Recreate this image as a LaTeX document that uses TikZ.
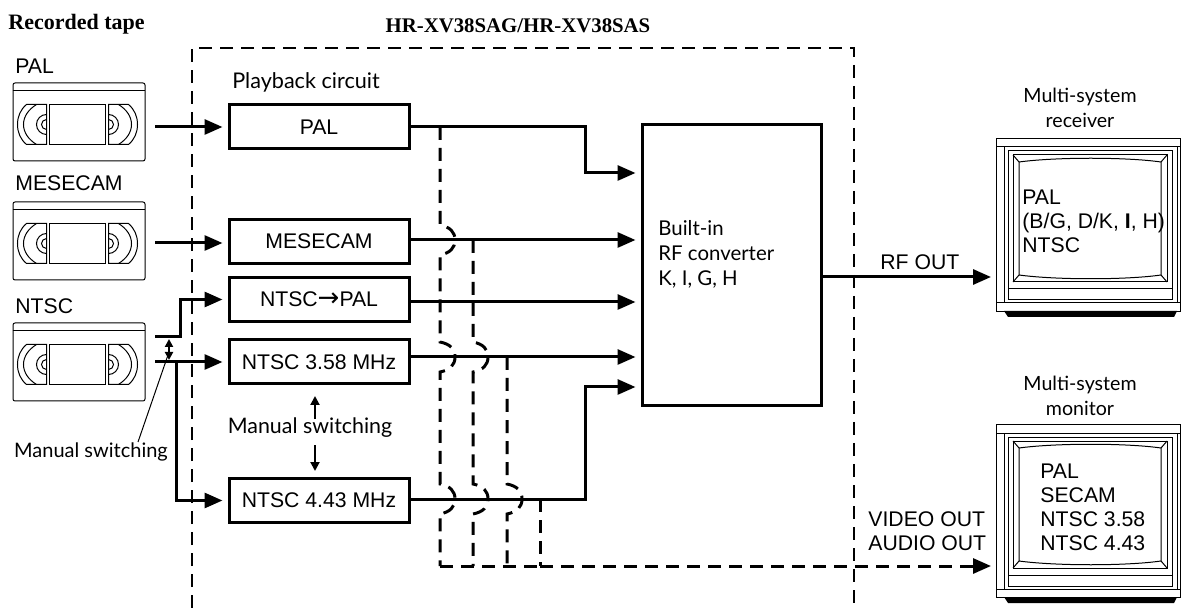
\documentclass[tikz,border=0pt]{standalone}
\usepackage{fontspec}
\setmainfont{Liberation Sans}
\newfontfamily\notefont{Lato}
\newfontfamily\headfont{Liberation Serif}
\newfontfamily\arrowfont{DejaVu Sans}
\usetikzlibrary{arrows.meta, calc}
\newcommand{\hop}[2]{-- (#1,#2-15) .. controls (#1+10,#2-13) and (#1+15,#2-8) .. (#1+15,#2) .. controls (#1+15,#2+8) and (#1+10,#2+13) .. (#1,#2+15)}

\tikzset{
    thinline/.style={line width=0.5pt, black},
    reel/.pic={
        \draw[thinline] (34,22) -- (14,22) .. controls (8,27) and (5,34) .. (5,42) .. controls (5,50) and (8,57) .. (14,62) -- (34,62) -- cycle;
        \draw[thinline] (24,22) .. controls (16,27) and (11,34) .. (11,42) .. controls (11,50) and (16,57) .. (24,62);
        \draw[thinline] (34,32) arc[start angle=-90, end angle=-270, radius=10];
        \draw[thinline] (34,37) arc[start angle=-90, end angle=-270, radius=5];
    },
    cassette/.pic={
        \draw[thinline] (0,8) -- (132,8);
        \draw[thinline] (37,22) rectangle (93,62);
        \pic at (0,0) {reel};
        \pic[transform shape, xscale=-1] at (130,0) {reel};
    },
    screenset/.pic={
        \draw[thinline] (0,9) -- (185,9);
        \draw[thinline] (0,165) -- (185,165);
        \draw[thinline] (8,9) -- (8,165);
        \draw[thinline] (181,9) -- (181,165);
        \draw[thinline] (12,13) rectangle (176,162);
        \draw[thinline] (12,151) -- (176,151);
        \draw[thinline] (17,17) rectangle (171,144);
        \draw[thinline] (23,24) .. controls (60,19) and (130,19) .. (165,24) -- (165,137) .. controls (130,142) and (60,142) .. (23,137) -- cycle;
        \draw[thinline] (17,17) -- (23,24);
        \draw[thinline] (171,17) -- (165,24);
        \draw[thinline] (17,144) -- (23,137);
        \draw[thinline] (171,144) -- (165,137);
        \fill[black] (8,173) -- (181,173) -- (178,179) -- (12,179) -- cycle;
    }
}

\begin{document}
\begin{tikzpicture}[
    x=0.5pt, y=-0.5pt,
    font=\fontsize{10.6}{12}\selectfont,
    tape/.style={rectangle, thinline, draw, rounded corners=1pt, minimum width=66pt, minimum height=39pt, inner sep=0pt},
    set/.style={rectangle, thinline, draw, minimum width=92pt, minimum height=86.5pt, inner sep=0pt},
    hwbox/.style={rectangle, draw, line width=1.5pt, minimum width=90pt, minimum height=22pt, inner sep=0pt},
    conv/.style={rectangle, draw, line width=1.5pt, minimum width=89.5pt, minimum height=140.5pt, inner sep=0pt},
    plain/.style={inner sep=0pt, anchor=west, align=left},
    note/.style={inner sep=0pt, font=\notefont\fontsize{9.8}{12.2}\selectfont, align=center},
    head/.style={inner sep=0pt, font=\headfont\bfseries\fontsize{10.4}{12}\selectfont},
    line/.style={line width=1.5pt, -{Triangle[length=9pt, width=7.5pt]}, shorten >=2.5pt},
    switcharrow/.style={line width=1pt, -{Triangle[length=4.5pt, width=4.5pt]}},
    bus/.style={line width=1.5pt, dash pattern=on 6.5pt off 4pt},
    frame/.style={line width=1.1pt, dash pattern=on 6.5pt off 4pt}
]
    \useasboundingbox (0,0) rectangle (1181,608);

    \node [head, anchor=west, font=\headfont\bfseries\fontsize{11}{12}\selectfont] (rectape) at (8,24) {Recorded tape};
    \node [head] (model) at (518,26) {HR-XV38SAG/HR-XV38SAS};
    \draw [frame] (192,608) |- (854,48) -- (854,608);

    % tapes
    \node [plain] (lblpal) at (15,66) {PAL};
    \node [plain] (lblmese) at (15,183) {MESECAM};
    \node [plain] (lblntsc) at (15,306) {NTSC};
    \node [tape] (tapepal) at (79,122) {};
    \node [tape] (tapemese) at (79,241) {};
    \node [tape] (tapentsc) at (79,362) {};
    \pic at (tapepal.north west) {cassette};
    \pic at (tapemese.north west) {cassette};
    \pic at (tapentsc.north west) {cassette};

    % playback circuits
    \node [note, font=\notefont\fontsize{10.8}{12}\selectfont] (playback) at (306,82) {Playback circuit};
    \node [hwbox] (pal) at (319,127) {PAL};
    \node [hwbox] (mese) at (319,241.5) {MESECAM};
    \node [hwbox] (topal) at (319,299.5) {NTSC{\arrowfont\fontsize{13}{12}\selectfont→}PAL};
    \node [hwbox] (n358) at (319,362) {NTSC 3.58 MHz};
    \node [hwbox] (n443) at (319,500.5) {NTSC 4.43 MHz};
    \node [note, font=\notefont\fontsize{10.7}{12}\selectfont] (switchmid) at (310,428) {Manual switching};
    \node [note, font=\notefont\fontsize{10}{12}\selectfont] (switchleft) at (91,452) {Manual switching};
    \node [conv] (rf) at (731.5,265.5) {};
    \node [note, anchor=west, align=left, font=\notefont\fontsize{10.2}{12.5}\selectfont] (rftxt) at (658,254) {Built-in\\RF converter\\K, I, G, H};

    % receivers
    \node [set, anchor=north west] (receiver) at (996,138) {};
    \node [set, anchor=north west] (monitor) at (996,424) {};
    \pic at (receiver.north west) {screenset};
    \pic at (monitor.north west) {screenset};
    \node [note] (rectxt) at (1080,108) {Multi-system\\receiver};
    \node [note] (montxt) at (1080,396) {Multi-system\\monitor};
    \node [plain] (rectv) at (1022,221) {PAL\\(B/G, D/K, {\bfseries I}, H)\\NTSC};
    \node [plain] (montv) at (1040,507) {PAL\\SECAM\\NTSC 3.58\\NTSC 4.43};
    \node [plain] (rfout) at (880,262) {RF OUT};
    \node [plain] (avout) at (868,531) {VIDEO OUT\\AUDIO OUT};

    % inputs
    \coordinate (inpal) at (155,127);
    \coordinate (inmese) at (155,243);
    \coordinate (inupper) at (155,337);
    \coordinate (inlower) at (155,362);
    \draw [line] (inpal) -- (pal.west |- inpal);
    \draw [line] (inmese) -- (mese.west |- inmese);
    \draw [line] (inupper) -- (180,337) |- (topal.west);
    \draw [line] (inlower) -- (n358.west);
    \draw [line] (176,362) |- (n443.west);
    \draw [line width=1pt, {Triangle[length=4pt, width=4pt]}-{Triangle[length=4pt, width=4pt]}] (169,339) -- (169,360);
    \draw [thinline] (168,355) -- (138,442);

    % outputs
    \draw [line] (pal.east) -- (585,127) |- (rf.west |- 0,173);
    \draw [line] (mese.east |- 0,240) -- (rf.west |- 0,240);
    \draw [line] (topal.east |- 0,302) -- (rf.west |- 0,302);
    \draw [line] (n358.east |- 0,357) -- (rf.west |- 0,357);
    \draw [line] (n443.east |- 0,499) -- (585,499) |- (rf.west |- 0,387);
    \draw [line] (rf.east |- 0,277) -- (receiver.west |- 0,277);
    \draw [switcharrow] (315,419) -- (315,396);
    \draw [switcharrow] (315,445) -- (315,471);

    % dashed video lines
    \draw [bus] (440,127) \hop{440}{240} \hop{440}{357} \hop{440}{499} -- (440,566);
    \draw [bus] (473,240) \hop{473}{357} \hop{473}{499} -- (473,566);
    \draw [bus] (507,357) \hop{507}{499} -- (507,566);
    \draw [bus] (540,499) -- (540,566);
    \draw [bus] (440,566) -- (540,566);
    \draw [bus, -{Triangle[length=9pt, width=7.5pt]}, shorten >=2.5pt] (540,566) -- (monitor.west |- 0,566);
\end{tikzpicture}
\end{document}
